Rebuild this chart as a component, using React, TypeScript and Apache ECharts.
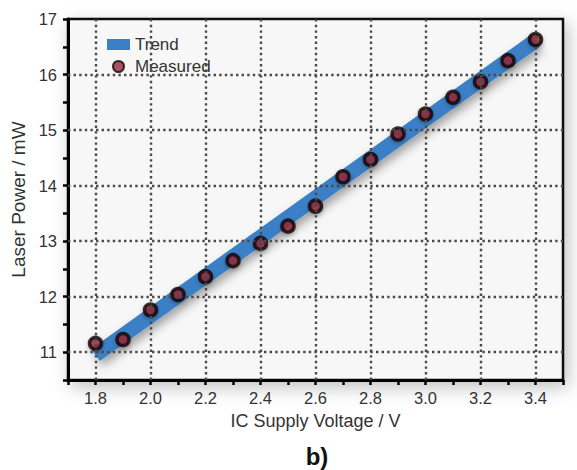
import React, { useEffect, useRef } from "react";
import * as echarts from "echarts";

const voltages = [1.8, 1.9, 2.0, 2.1, 2.2, 2.3, 2.4, 2.5, 2.6, 2.7, 2.8, 2.9, 3.0, 3.1, 3.2, 3.3, 3.4];
const measured = [11.16, 11.23, 11.76, 12.04, 12.36, 12.65, 12.96, 13.27, 13.63, 14.16, 14.47, 14.93, 15.29, 15.59, 15.87, 16.25, 16.63];
const trendX = [1.8, 3.4];
const trendY = [10.95, 16.61];
const gridXValues = [1.8, 2.0, 2.2, 2.4, 2.6, 2.8, 3.0, 3.2, 3.4];
const gridYValues = [11, 12, 13, 14, 15, 16];

const FONT = "Liberation Sans, Arial, sans-serif";

export default function App() {
  const ref = useRef<HTMLDivElement>(null);
  useEffect(() => {
    if (!ref.current) return;
    const chart = echarts.init(ref.current, null, { renderer: "svg" });
    const dotted = { color: "#4a4a4a", width: 2.4, type: [2.4, 3.2] as number[], cap: "butt" as const };
    chart.setOption({
      animation: false,
      backgroundColor: "#ffffff",
      textStyle: { fontFamily: FONT },
      title: {
        text: "b)",
        left: 312,
        top: 439,
        textAlign: "center",
        textStyle: { fontSize: 24, fontWeight: "bold", color: "#111", fontFamily: FONT },
      },
      legend: {
        orient: "vertical",
        left: 102,
        top: 31,
        itemWidth: 23,
        itemHeight: 11,
        itemGap: 5,
        textStyle: { fontSize: 17, color: "#333", fontFamily: FONT },
        data: [
          { name: "Trend", icon: "rect", itemStyle: { color: "#3a80c6" } },
          { name: "Measured", icon: "circle" },
        ],
      },
      grid: {
        left: 68,
        right: 14,
        top: 19,
        bottom: 90,
        show: true,
        backgroundColor: "#f7f7f7",
        borderColor: "#111",
        borderWidth: 2.5,
        shadowBlur: 18,
        shadowColor: "rgba(0,0,0,0.25)",
        shadowOffsetX: 4,
        shadowOffsetY: 6,
      },
      xAxis: {
        type: "value",
        min: 1.7,
        max: 3.5,
        interval: 0.1,
        name: "IC Supply Voltage / V",
        nameLocation: "middle",
        nameGap: 32,
        nameTextStyle: { fontSize: 18, color: "#333", fontFamily: FONT },
        axisLine: { show: true, onZero: false, lineStyle: { color: "#000", width: 3 } },
        axisTick: { show: true, length: 5, lineStyle: { color: "#000", width: 2.5 } },
        axisLabel: {
          fontSize: 16.5,
          color: "#333",
          margin: 9,
          formatter: (v: number) => (Math.round(v * 10) % 2 === 0 ? v.toFixed(1) : ""),
        },
        splitLine: { show: false },
      },
      yAxis: {
        type: "value",
        min: 10.5,
        max: 17,
        interval: 0.5,
        name: "Laser Power / mW",
        nameLocation: "middle",
        nameGap: 35,
        nameTextStyle: { fontSize: 19, color: "#333", fontFamily: FONT },
        axisLine: { show: true, onZero: false, lineStyle: { color: "#000", width: 3 } },
        axisTick: { show: true, length: 5, lineStyle: { color: "#000", width: 2.5 } },
        axisLabel: {
          fontSize: 16.5,
          color: "#333",
          margin: 11,
          formatter: (v: number) => (Math.abs(v % 1) < 1e-9 ? String(v) : ""),
        },
        splitLine: { show: false },
      },
      series: [
        {
          name: "grid",
          type: "line",
          data: [],
          z: 1,
          silent: true,
          markLine: {
            silent: true,
            symbol: "none",
            label: { show: false },
            lineStyle: dotted,
            emphasis: { disabled: true },
            data: [
              ...gridXValues.map((v) => ({ xAxis: v })),
              ...gridYValues.map((v) => ({ yAxis: v })),
            ],
          },
        },
        {
          name: "Trend",
          type: "line",
          z: 2,
          data: trendX.map((x, i) => [x, trendY[i]]),
          showSymbol: false,
          symbol: "none",
          itemStyle: { color: "#3a80c6" },
          lineStyle: {
            color: "#3a80c6",
            width: 15,
            cap: "butt",
            shadowBlur: 10,
            shadowColor: "rgba(0,0,0,0.35)",
            shadowOffsetX: 3,
            shadowOffsetY: 5,
          },
        },
        {
          name: "Measured",
          type: "scatter",
          z: 3,
          data: voltages.map((x, i) => [x, measured[i]]),
          symbol: "circle",
          symbolSize: 12,
          itemStyle: {
            color: "#97283a",
            borderColor: "#120505",
            borderWidth: 3.5,
            shadowBlur: 4,
            shadowColor: "rgba(0,0,0,0.3)",
            shadowOffsetY: 2,
          },
        },
      ],
    });
    return () => chart.dispose();
  }, []);
  return <div ref={ref} style={{ width: 577, height: 470, position: "absolute", left: 0, top: 0 }} />;
}
